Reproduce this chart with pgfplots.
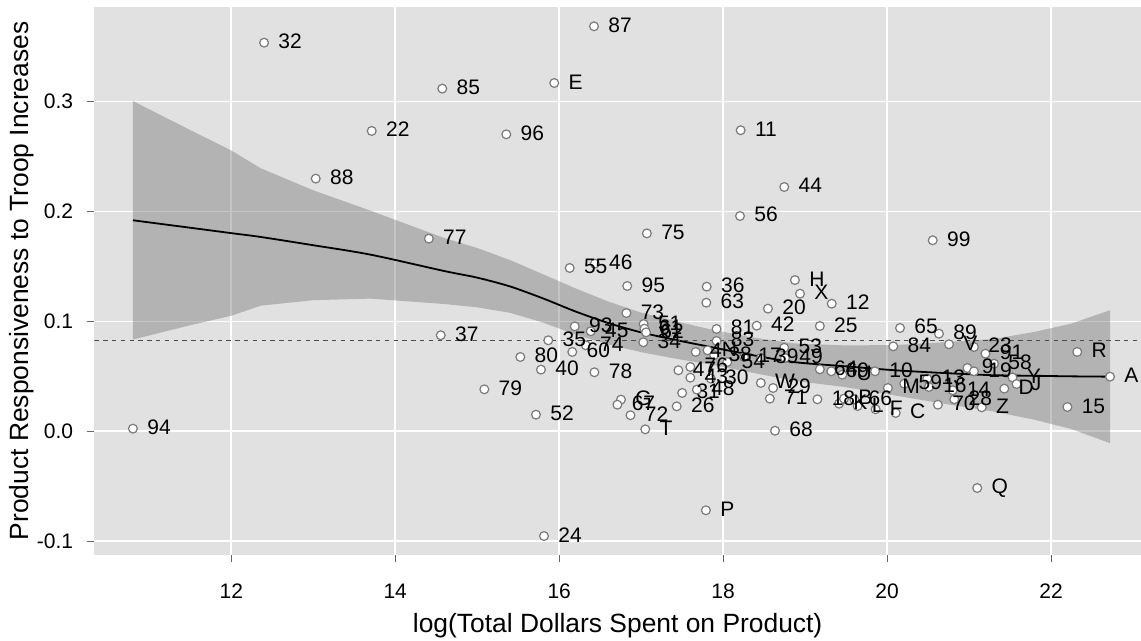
\documentclass[border=0pt]{standalone}
\usepackage{fontspec}
\setmainfont{Liberation Sans}
\usepackage{pgfplots}
\usepackage{pgfplotstable}
\pgfplotsset{compat=1.18}
\definecolor{panelbg}{HTML}{E1E1E1}
\definecolor{ptedge}{HTML}{7A7A7A}
\definecolor{ribbon}{HTML}{707070}

\pgfplotstableread{
lab x y
94 10.80 0.0024
32 12.40 0.3536
22 13.713 0.2733
88 13.03 0.2299
77 14.41 0.1753
85 14.574 0.3118
87 16.425 0.3685
E 15.94 0.3169
96 15.355 0.2702
11 18.214 0.2739
44 18.746 0.2223
56 18.206 0.1959
75 17.07 0.1801
55 16.128 0.1486
46 16.435 0.1525
95 16.83 0.1322
36 17.80 0.1316
63 17.795 0.1170
20 18.547 0.1116
73 16.82 0.1076
42 18.41 0.0961
81 17.92 0.0931
93 16.19 0.0955
45 16.385 0.0910
37 14.555 0.0874
35 15.867 0.0828
80 15.526 0.0676
40 15.778 0.0561
60 16.16 0.0722
74 16.324 0.0783
78 16.43 0.0537
51 17.03 0.0976
61 17.04 0.0934
62 17.06 0.0900
34 17.026 0.0810
72 16.87 0.0146
T 17.05 0.0018
G 16.754 0.0288
67 16.71 0.0242
26 17.434 0.0227
31 17.50 0.0349
48 17.68 0.0379
47 17.454 0.0555
76 17.60 0.0585
43 17.60 0.0488
30 17.85 0.0479
4 17.666 0.0722
N 17.81 0.0737
83 17.92 0.0822
38 17.89 0.0692
54 18.05 0.0630
17 18.255 0.0676
39 18.46 0.0667
49 18.755 0.0667
53 18.745 0.0760
W 18.46 0.0440
29 18.61 0.0394
71 18.57 0.0297
68 18.633 0.0005
P 17.79 -0.0719
24 15.815 -0.0953
79 15.087 0.0382
52 15.717 0.0151
H 18.876 0.1376
X 18.938 0.1252
12 19.325 0.1161
25 19.18 0.0958
65 20.158 0.0940
89 20.633 0.0888
84 20.076 0.0773
V 20.756 0.0792
23 21.06 0.0767
91 21.20 0.0706
58 21.305 0.0615
9 20.98 0.0576
19 21.06 0.0546
64 19.18 0.0564
69 19.32 0.0546
U 19.454 0.0515
10 19.853 0.0546
M 20.01 0.0394
59 20.21 0.0433
13 20.49 0.0479
16 20.51 0.0403
14 20.80 0.0373
70 20.62 0.0242
28 20.82 0.0291
Z 21.155 0.0218
C 20.106 0.0167
F 19.86 0.0200
L 19.64 0.0230
K 19.414 0.0251
18 19.15 0.0291
B 19.475 0.0297
66 19.60 0.0291
D 21.43 0.0388
Y 21.53 0.0490
J 21.58 0.0430
R 22.32 0.0722
A 22.72 0.0497
15 22.20 0.0221
Q 21.10 -0.0516
99 20.557 0.1738
}\pts

\pgfplotstableread{
x line
10.80 0.1920
11.5 0.1852
12.0 0.1803
12.36 0.1768
13.0 0.1693
13.7 0.1607
14.6 0.1458
15.0 0.1398
15.4 0.1318
15.8 0.1210
16.2 0.1090
16.6 0.0985
17.0 0.0900
17.44 0.0828
17.85 0.0767
18.3 0.0701
18.86 0.0630
19.5 0.0591
20.1 0.0555
20.7 0.0530
21.3 0.0510
21.8 0.0505
22.25 0.0500
22.72 0.0497
}\fit

\pgfplotstableread{
x y
10.80 0.3005
11.5 0.2741
12.0 0.2555
12.36 0.2393
13.0 0.2193
13.7 0.2007
14.6 0.1758
15.0 0.1668
15.4 0.1558
15.8 0.1430
16.2 0.1300
16.6 0.1180
17.0 0.1080
17.44 0.0998
17.85 0.0927
18.3 0.0861
18.86 0.0800
19.5 0.0781
20.1 0.0785
20.7 0.0810
21.3 0.0840
21.8 0.0905
22.25 0.0980
22.72 0.1102
22.72 -0.0108
22.25 0.0020
21.8 0.0105
21.3 0.0180
20.7 0.0250
20.1 0.0325
19.5 0.0401
18.86 0.0460
18.3 0.0541
17.85 0.0607
17.44 0.0658
17.0 0.0720
16.6 0.0790
16.2 0.0880
15.8 0.0990
15.4 0.1078
15.0 0.1128
14.6 0.1158
13.7 0.1207
13.0 0.1193
12.36 0.1143
12.0 0.1051
11.5 0.0965
10.80 0.0835
}\band

\begin{document}
\begin{tikzpicture}
\begin{axis}[
  scale only axis, width=523.35pt, height=274.15pt,
  xmin=10.3287, xmax=23.098, ymin=-0.11256, ymax=0.38635,
  axis background/.style={fill=panelbg},
  axis line style={draw=none},
  xtick={12,14,16,18,20,22}, xticklabels={12,14,16,18,20,22},
  ytick={-0.1,0,0.1,0.2,0.3}, yticklabels={-0.1,0.0,0.1,0.2,0.3},
  tick pos=left, tick align=outside, major tick length=3.5pt,
  tick style={black!60, line width=0.5pt},
  grid=major, major grid style={white, line width=0.8pt},
  ticklabel style={font=\fontsize{10.5}{12}\selectfont, text=black},
  xticklabel style={yshift=-7.5pt},
  yticklabel style={xshift=-3.6pt},
  xlabel={log(Total Dollars Spent on Product)},
  ylabel={Product Responsiveness to Troop Increases},
  label style={font=\fontsize{13.2}{15}\selectfont},
  xlabel style={at={(axis description cs:0.5,-0.1295)}, anchor=center},
  ylabel style={at={(axis description cs:-0.0690,0.5)}, anchor=center},
]
\addplot[only marks, mark=*, mark size=2.2pt,
  mark options={fill=white, draw=ptedge, line width=0.6pt}]
  table[x=x, y=y]{\pts};
\addplot[fill=ribbon, fill opacity=0.4, draw=none] table[x=x, y=y]{\band} -- cycle;
\addplot[black, line width=0.9pt, smooth] table[x=x, y=line]{\fit};
\addplot[black!70, line width=0.5pt, dash pattern=on 2.2pt off 2.2pt]
  coordinates {(10.3287,0.0828) (23.098,0.0828)};
\addplot[only marks, mark=*, mark size=0pt, mark options={draw=none, fill=none},
  nodes near coords, point meta=explicit symbolic,
  every node near coord/.append style={anchor=base west, xshift=7pt, yshift=-3pt,
    inner sep=0pt, font=\fontsize{10.5}{12}\selectfont, text=black}]
  table[x=x, y=y, meta=lab]{\pts};
\end{axis}
\pgfresetboundingbox
\path ([xshift=-47.15pt,yshift=-43pt]current axis.south west) rectangle ([yshift=3.35pt]current axis.north east);
\end{tikzpicture}
\end{document}
